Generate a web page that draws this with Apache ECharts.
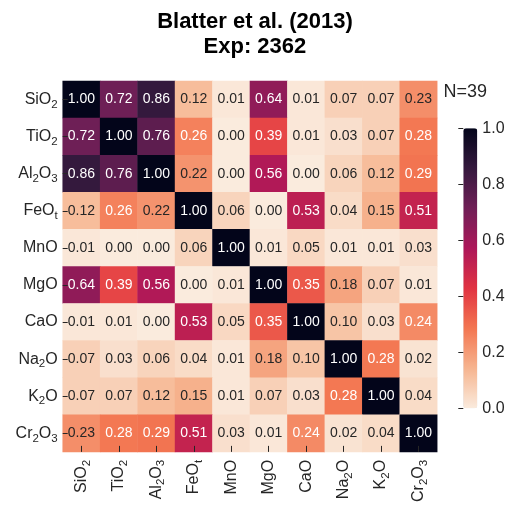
<!DOCTYPE html>
<html>
<head>
<meta charset="utf-8">
<title>Blatter et al. (2013) Exp: 2362</title>
<script src="https://cdn.jsdelivr.net/npm/echarts@6/dist/echarts.min.js"></script>
<style>
  html, body { margin: 0; padding: 0; background: #ffffff; }
  #chart { width: 513px; height: 505px; }
</style>
</head>
<body>
<div id="chart"></div>
<script>
// Oxide names; "_x" marks a subscript
const oxides = ['SiO_2', 'TiO_2', 'Al_2O_3', 'FeO_t', 'MnO', 'MgO', 'CaO', 'Na_2O', 'K_2O', 'Cr_2O_3'];

// Correlation matrix rows (same order as oxides)
const rowSiO2  = [1.00, 0.72, 0.86, 0.12, 0.01, 0.64, 0.01, 0.07, 0.07, 0.23];
const rowTiO2  = [0.72, 1.00, 0.76, 0.26, 0.00, 0.39, 0.01, 0.03, 0.07, 0.28];
const rowAl2O3 = [0.86, 0.76, 1.00, 0.22, 0.00, 0.56, 0.00, 0.06, 0.12, 0.29];
const rowFeOt  = [0.12, 0.26, 0.22, 1.00, 0.06, 0.00, 0.53, 0.04, 0.15, 0.51];
const rowMnO   = [0.01, 0.00, 0.00, 0.06, 1.00, 0.01, 0.05, 0.01, 0.01, 0.03];
const rowMgO   = [0.64, 0.39, 0.56, 0.00, 0.01, 1.00, 0.35, 0.18, 0.07, 0.01];
const rowCaO   = [0.01, 0.01, 0.00, 0.53, 0.05, 0.35, 1.00, 0.10, 0.03, 0.24];
const rowNa2O  = [0.07, 0.03, 0.06, 0.04, 0.01, 0.18, 0.10, 1.00, 0.28, 0.02];
const rowK2O   = [0.07, 0.07, 0.12, 0.15, 0.01, 0.07, 0.03, 0.28, 1.00, 0.04];
const rowCr2O3 = [0.23, 0.28, 0.29, 0.51, 0.03, 0.01, 0.24, 0.02, 0.04, 1.00];

// Colour bar ticks
const barTicks = [0.0, 0.2, 0.4, 0.6, 0.8, 1.0];
const sampleSize = 'N=39';

const matrix = [rowSiO2, rowTiO2, rowAl2O3, rowFeOt, rowMnO, rowMgO, rowCaO, rowNa2O, rowK2O, rowCr2O3];

// Reversed "rocket" palette, light (0) to dark (1)
const rocketR = ['#faebdd', '#f6b48f', '#f37651', '#e13342', '#ad1759', '#701f57', '#35193e', '#03051a'];

const FONT = '"Liberation Sans", Arial, Helvetica, sans-serif';
const INK = '#262626';

// Turn "Al_2O_3" into rich-text tokens
function chemLabel(name) {
  let out = '';
  const re = /([^_]+)|_(.)/g;
  let m;
  while ((m = re.exec(name)) !== null) {
    if (m[1] !== undefined) out += '{m|' + m[1] + '}';
    else out += '{s|' + m[2] + '}';
  }
  return out;
}
const labelRich = {
  m: { fontSize: 16, lineHeight: 22, color: INK, fontFamily: FONT },
  s: { fontSize: 11.5, lineHeight: 11, verticalAlign: 'bottom', color: INK, fontFamily: FONT }
};

const cells = [];
matrix.forEach(function (row, i) {
  row.forEach(function (v, j) {
    cells.push({
      value: [j, i, v],
      label: { color: v >= 0.235 ? '#ffffff' : INK }
    });
  });
});

const gridLeft = 62.7, gridTop = 81, gridW = 374.5, gridH = 374;

const chart = echarts.init(document.getElementById('chart'), null, { renderer: 'canvas' });
chart.setOption({
  animation: false,
  backgroundColor: '#ffffff',
  textStyle: { fontFamily: FONT },
  title: {
    text: 'Blatter et al. (2013)\nExp: 2362',
    left: gridLeft + gridW / 2,
    textAlign: 'center',
    top: 4,
    textStyle: { fontSize: 22, fontWeight: 'bold', color: '#000000', lineHeight: 25, fontFamily: FONT }
  },
  graphic: [{
    type: 'text',
    left: 443.5,
    top: 83.5,
    style: { text: sampleSize, fontSize: 18, fill: INK, fontFamily: FONT }
  }],
  grid: [
    { left: gridLeft, top: gridTop, width: gridW, height: gridH },
    { left: 463.3, top: 128.3, width: 14, height: 280 }
  ],
  xAxis: [{
    type: 'category',
    data: oxides,
    gridIndex: 0,
    z: 10,
    axisLine: { show: false },
    axisTick: { show: true, inside: true, length: 6, alignWithLabel: true, lineStyle: { color: INK, width: 1 } },
    axisLabel: { rotate: 90, margin: 8, interval: 0, formatter: chemLabel, rich: labelRich },
    splitLine: { show: false }
  }, {
    type: 'value',
    gridIndex: 1,
    show: false
  }],
  yAxis: [{
    type: 'category',
    data: oxides,
    inverse: true,
    gridIndex: 0,
    z: 10,
    axisLine: { show: false },
    axisTick: { show: true, inside: true, length: 5, alignWithLabel: true, lineStyle: { color: INK, width: 1 } },
    axisLabel: { margin: 5, interval: 0, formatter: chemLabel, rich: labelRich },
    splitLine: { show: false }
  }, {
    type: 'value',
    gridIndex: 1,
    min: barTicks[0],
    max: barTicks[barTicks.length - 1],
    interval: 0.2,
    position: 'right',
    z: 10,
    axisLine: { show: false },
    axisTick: { show: true, inside: true, length: 5, lineStyle: { color: INK, width: 1 } },
    axisLabel: { margin: 5, fontSize: 16, color: INK, fontFamily: FONT, formatter: function (v) { return v.toFixed(1); } },
    splitLine: { show: false }
  }],
  visualMap: {
    type: 'continuous',
    seriesIndex: 0,
    min: 0,
    max: 1,
    calculable: false,
    orient: 'vertical',
    left: 463.3,
    top: 128.3,
    itemWidth: 14,
    itemHeight: 280,
    padding: 0,
    inRange: { color: rocketR }
  },
  series: [{
    type: 'heatmap',
    xAxisIndex: 0,
    yAxisIndex: 0,
    data: cells,
    label: {
      show: true,
      fontSize: 14,
      fontFamily: FONT,
      formatter: function (p) { return p.value[2].toFixed(2); }
    },
    itemStyle: { borderWidth: 0 },
    emphasis: { disabled: true }
  }]
});
</script>
</body>
</html>
